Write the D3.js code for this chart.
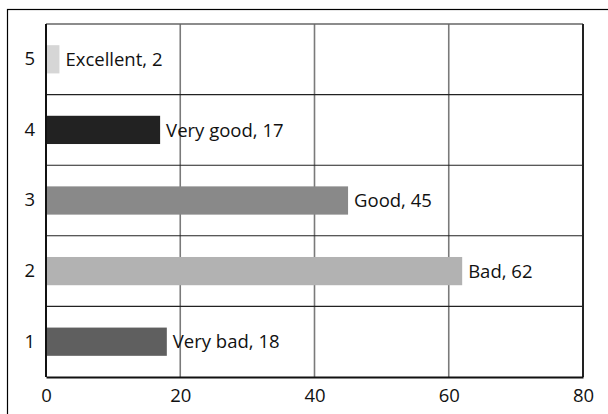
<!DOCTYPE html>
<html>
<head>
<meta charset="utf-8">
<script src="https://cdn.jsdelivr.net/npm/d3@7"></script>
<style>
  html, body { margin: 0; padding: 0; background: #fff; }
  svg { display: block; }
  text { font-family: "Open Sans", "Liberation Sans", sans-serif; fill: #111; }
</style>
</head>
<body>
<div id="chart"></div>
<script>
// ---- data ----
const categories = ["1", "2", "3", "4", "5"];
const ratingNames = ["Very bad", "Bad", "Good", "Very good", "Excellent"];
const values = [18, 62, 45, 17, 2];
const xTicks = [0, 20, 40, 60, 80];

// ---- styles ----
const barColors = ["#5f5f5f", "#b2b2b2", "#898989", "#222222", "#d6d6d6"];
const FS = 18.5;

const W = 608, H = 414;
const margin = { left: 46, top: 24, right: 25, bottom: 37 };
const innerW = W - margin.left - margin.right;
const innerH = H - margin.top - margin.bottom;

const svg = d3.select("#chart").append("svg")
  .attr("width", W).attr("height", H);

// outer frame (extends past the right/bottom edges)
svg.append("rect")
  .attr("x", 7.5).attr("y", 9.5)
  .attr("width", W + 50).attr("height", H + 50)
  .attr("fill", "none").attr("stroke", "#000").attr("stroke-width", 1.2);

const g = svg.append("g").attr("transform", `translate(${margin.left},${margin.top})`);

const x = d3.scaleLinear().domain([0, 80]).range([0, innerW]);
const y = d3.scaleBand().domain(categories.slice().reverse()).range([0, innerH])
  .paddingInner(0.6).paddingOuter(0.3);
const yGrid = d3.scaleBand().domain(categories.slice().reverse()).range([0, innerH]);

const data = categories.map((c, i) => ({ cat: c, name: ratingNames[i], value: values[i], color: barColors[i] }));

// vertical gridlines
g.append("g").selectAll("line").data(xTicks.slice(1, -1)).join("line")
  .attr("x1", d => x(d)).attr("x2", d => x(d))
  .attr("y1", 0).attr("y2", innerH)
  .attr("stroke", "#7a7a7a").attr("stroke-width", 1.6);

// horizontal gridlines (band boundaries)
g.append("g").selectAll("line").data(categories.slice(0, -1)).join("line")
  .attr("x1", 0).attr("x2", innerW)
  .attr("y1", d => yGrid(d)).attr("y2", d => yGrid(d))
  .attr("stroke", "#222").attr("stroke-width", 1.1);

// plot border
g.append("line").attr("x1", 0).attr("x2", innerW).attr("y1", 0).attr("y2", 0)
  .attr("stroke", "#666").attr("stroke-width", 1.6);
g.append("line").attr("x1", innerW).attr("x2", innerW).attr("y1", 0).attr("y2", innerH)
  .attr("stroke", "#222").attr("stroke-width", 2);

// bars
g.append("g").selectAll("rect").data(data).join("rect")
  .attr("x", x(0) + 1)
  .attr("y", d => y(d.cat))
  .attr("width", d => x(d.value) - x(0) - 1)
  .attr("height", y.bandwidth())
  .attr("fill", d => d.color);

// bar labels
g.append("g").selectAll("text").data(data).join("text")
  .attr("x", d => x(d.value) + 6)
  .attr("y", d => y(d.cat) + y.bandwidth() / 2)
  .attr("dy", "0.36em")
  .attr("font-size", FS)
  .text(d => `${d.name}, ${d.value}`);

// axes
const xAxis = d3.axisBottom(x).tickValues(xTicks).tickSize(0).tickPadding(12);
const xg = g.append("g").attr("transform", `translate(0,${innerH})`).call(xAxis);
xg.select(".domain").attr("stroke", "#111").attr("stroke-width", 2);
xg.selectAll("text").attr("font-size", FS).attr("fill", "#111");

const yAxis = d3.axisLeft(y).tickSize(0).tickPadding(11);
const yg = g.append("g").call(yAxis);
yg.select(".domain").attr("d", `M0,0V${innerH}`).attr("stroke", "#111").attr("stroke-width", 2);
yg.selectAll("text").attr("font-size", FS).attr("fill", "#111");
</script>
</body>
</html>
